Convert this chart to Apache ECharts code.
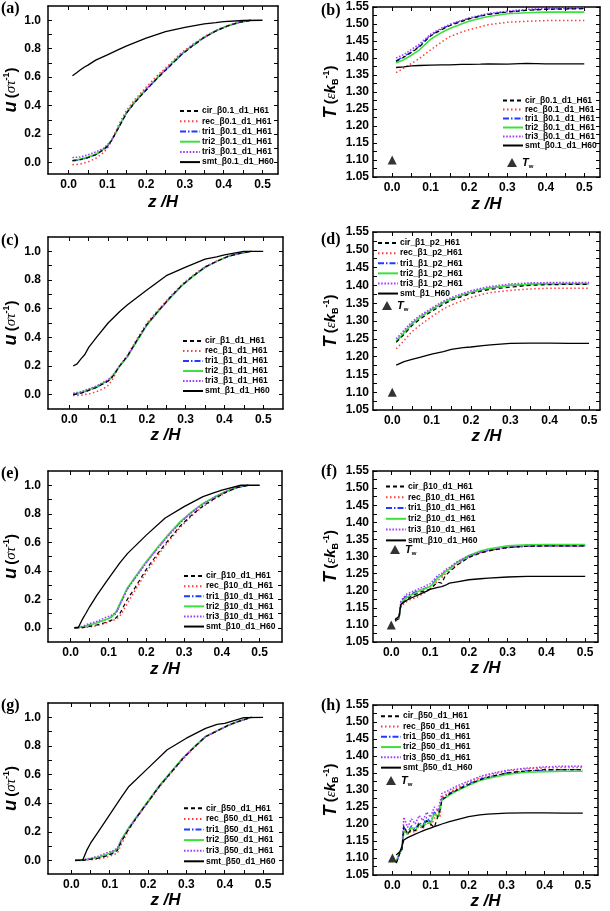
<!DOCTYPE html>
<html><head><meta charset="utf-8">
<script src="https://cdn.jsdelivr.net/npm/echarts@6/dist/echarts.min.js"></script>
<style>html,body{margin:0;padding:0;background:#fff}#c{width:610px;height:911px}</style>
</head><body><div id="c"></div>
<script>
// ---------- z grids ----------
const zS = [0.01,0.03,0.05,0.07,0.09,0.10,0.11,0.12,0.13,0.15,0.17,0.20,0.23,0.26,0.29,0.32,0.35,0.38,0.41,0.44,0.47];
const zM = [0.01,0.02,0.03,0.04,0.05,0.07,0.10,0.13,0.15,0.20,0.25,0.30,0.35,0.38,0.40,0.45,0.50];
const zT = [0.01,0.03,0.05,0.07,0.10,0.13,0.15,0.18,0.20,0.23,0.25,0.30,0.35,0.40,0.45,0.50];
const zF = [0.01,0.015,0.02,0.025,0.03,0.04,0.05,0.06,0.07,0.08,0.09,0.10,0.11,0.12,0.13,0.14,0.15,0.17,0.20,0.23,0.25,0.30,0.35,0.40,0.45,0.50];
const zH = [0.01,0.015,0.02,0.025,0.03,0.04,0.05,0.06,0.07,0.08,0.09,0.10,0.11,0.12,0.125,0.13,0.15,0.17,0.20,0.23,0.25,0.30,0.35,0.40,0.45,0.50];

// ---------- (a) u, beta 0.1 ----------
const a_cir  = [0.015,0.02,0.035,0.055,0.09,0.115,0.15,0.2,0.25,0.35,0.42,0.51,0.595,0.675,0.755,0.82,0.88,0.925,0.96,0.985,1.0];
const a_rec  = [-0.015,-0.01,0.005,0.03,0.07,0.1,0.15,0.21,0.27,0.37,0.44,0.53,0.615,0.69,0.77,0.83,0.885,0.93,0.962,0.986,1.0];
const a_tri1 = [0.01,0.02,0.035,0.055,0.09,0.11,0.15,0.2,0.25,0.35,0.42,0.51,0.595,0.675,0.755,0.82,0.878,0.924,0.96,0.985,1.0];
const a_tri2 = [0.015,0.025,0.04,0.06,0.095,0.12,0.155,0.2,0.255,0.355,0.425,0.515,0.6,0.68,0.76,0.825,0.88,0.926,0.96,0.985,1.0];
const a_tri3 = [0.035,0.04,0.055,0.075,0.1,0.125,0.155,0.205,0.255,0.35,0.425,0.515,0.6,0.68,0.76,0.825,0.88,0.926,0.96,0.986,1.0];
const a_smt  = [0.61,0.63,0.65,0.67,0.685,0.72,0.757,0.795,0.82,0.875,0.92,0.95,0.975,0.983,0.99,0.998,1.0];

// ---------- (b) T, beta 0.1 ----------
const b_cir  = [1.39,1.402,1.416,1.432,1.465,1.484,1.495,1.507,1.515,1.523,1.528,1.535,1.54,1.543,1.544,1.545];
const b_rec  = [1.357,1.37,1.384,1.398,1.424,1.448,1.463,1.476,1.483,1.492,1.498,1.505,1.508,1.51,1.51,1.51];
const b_tri1 = [1.392,1.404,1.418,1.434,1.467,1.486,1.497,1.509,1.516,1.524,1.529,1.536,1.541,1.544,1.545,1.546];
const b_tri2 = [1.385,1.395,1.408,1.423,1.455,1.476,1.487,1.5,1.508,1.517,1.522,1.53,1.533,1.535,1.535,1.535];
const b_tri3 = [1.40,1.41,1.425,1.44,1.47,1.489,1.499,1.51,1.518,1.526,1.531,1.538,1.543,1.546,1.547,1.547];
const b_smt  = [1.372,1.374,1.377,1.378,1.379,1.38,1.38,1.381,1.381,1.382,1.383,1.382,1.384,1.383,1.383,1.383];

// ---------- (c) u, beta 1 ----------
const c_cir  = [0.0,0.01,0.03,0.05,0.08,0.095,0.12,0.16,0.2,0.27,0.36,0.49,0.586,0.678,0.762,0.83,0.89,0.93,0.965,0.986,1.0];
const c_rec  = [-0.005,-0.005,0.005,0.02,0.045,0.065,0.1,0.15,0.2,0.275,0.37,0.5,0.595,0.685,0.768,0.835,0.893,0.933,0.967,0.987,1.0];
const c_tri1 = [0.0,0.01,0.03,0.05,0.08,0.095,0.12,0.16,0.2,0.265,0.355,0.485,0.583,0.675,0.76,0.828,0.888,0.93,0.965,0.986,1.0];
const c_tri2 = [0.005,0.015,0.035,0.055,0.085,0.1,0.125,0.16,0.2,0.265,0.355,0.485,0.583,0.675,0.76,0.828,0.888,0.93,0.965,0.986,1.0];
const c_tri3 = [0.01,0.02,0.04,0.06,0.09,0.105,0.13,0.165,0.205,0.27,0.36,0.49,0.586,0.678,0.762,0.83,0.89,0.93,0.965,0.986,1.0];
const c_smt  = [0.2,0.215,0.25,0.28,0.33,0.4,0.5,0.58,0.627,0.73,0.83,0.89,0.945,0.962,0.975,1.0,1.0];

// ---------- (d) T, beta 1, p2 ----------
const d_cir  = [1.24,1.262,1.287,1.305,1.327,1.347,1.358,1.37,1.377,1.385,1.389,1.395,1.40,1.402,1.403,1.403];
const d_rec  = [1.222,1.245,1.27,1.288,1.312,1.334,1.345,1.358,1.366,1.375,1.38,1.386,1.39,1.392,1.392,1.392];
const d_tri1 = [1.243,1.268,1.293,1.31,1.332,1.352,1.362,1.374,1.381,1.389,1.393,1.40,1.403,1.404,1.405,1.405];
const d_tri2 = [1.242,1.267,1.292,1.31,1.332,1.352,1.362,1.374,1.381,1.389,1.393,1.40,1.403,1.405,1.405,1.405];
const d_tri3 = [1.25,1.274,1.298,1.315,1.336,1.356,1.366,1.378,1.385,1.393,1.397,1.404,1.407,1.408,1.408,1.408];
const d_smt  = [1.176,1.186,1.192,1.198,1.207,1.214,1.22,1.225,1.227,1.231,1.233,1.237,1.238,1.238,1.237,1.237];

// ---------- (e) u, beta 10 ----------
const e_cir  = [0.0,0.0,0.01,0.02,0.035,0.045,0.055,0.07,0.1,0.2,0.28,0.41,0.52,0.62,0.715,0.79,0.855,0.905,0.95,0.983,1.0];
const e_rec  = [0.0,0.0,0.005,0.015,0.03,0.04,0.05,0.06,0.08,0.17,0.26,0.39,0.505,0.61,0.705,0.785,0.85,0.903,0.948,0.983,1.0];
const e_tri1 = [0.0,0.005,0.02,0.035,0.055,0.065,0.08,0.1,0.16,0.275,0.35,0.46,0.56,0.655,0.74,0.81,0.87,0.915,0.955,0.985,1.0];
const e_tri2 = [0.0,0.005,0.02,0.035,0.055,0.065,0.08,0.11,0.17,0.28,0.355,0.465,0.565,0.66,0.745,0.813,0.872,0.917,0.956,0.985,1.0];
const e_tri3 = [0.0,0.01,0.03,0.045,0.07,0.08,0.09,0.11,0.16,0.27,0.345,0.455,0.555,0.65,0.737,0.808,0.868,0.914,0.955,0.985,1.0];
const e_smt  = [0.0,0.0,0.055,0.1,0.147,0.23,0.345,0.455,0.52,0.65,0.77,0.85,0.92,0.948,0.965,1.0,1.0];

// ---------- (f) T, beta 10 ----------
const f_cir  = [1.112,1.115,1.118,1.16,1.165,1.175,1.182,1.188,1.193,1.198,1.2,1.205,1.215,1.225,1.222,1.245,1.255,1.275,1.297,1.31,1.316,1.326,1.33,1.331,1.331,1.331];
const f_rec  = [1.11,1.113,1.118,1.155,1.16,1.168,1.175,1.178,1.183,1.19,1.196,1.205,1.215,1.23,1.238,1.25,1.258,1.277,1.298,1.311,1.317,1.327,1.33,1.331,1.33,1.33];
const f_tri1 = [1.115,1.118,1.12,1.165,1.175,1.185,1.19,1.195,1.2,1.204,1.208,1.212,1.225,1.24,1.245,1.258,1.265,1.282,1.30,1.312,1.318,1.327,1.33,1.331,1.331,1.331];
const f_tri2 = [1.115,1.118,1.12,1.16,1.17,1.18,1.187,1.192,1.198,1.203,1.207,1.212,1.222,1.238,1.243,1.256,1.263,1.283,1.303,1.316,1.322,1.331,1.334,1.335,1.335,1.335];
const f_tri3 = [1.118,1.12,1.122,1.17,1.178,1.19,1.195,1.2,1.205,1.21,1.215,1.22,1.232,1.245,1.25,1.262,1.268,1.285,1.302,1.313,1.318,1.326,1.33,1.331,1.33,1.33];
const f_smt  = [1.115,1.12,1.125,1.16,1.165,1.172,1.178,1.183,1.188,1.193,1.198,1.204,1.207,1.21,1.212,1.216,1.222,1.226,1.232,1.235,1.237,1.24,1.242,1.242,1.242,1.242];

// ---------- (g) u, beta 50 ----------
const g_cir  = [0.0,0.0,0.008,0.015,0.03,0.04,0.05,0.07,0.13,0.22,0.3,0.41,0.52,0.615,0.71,0.79,0.865,0.905,0.945,0.975,1.0];
const g_rec  = [0.0,0.0,0.005,0.01,0.02,0.03,0.04,0.05,0.11,0.215,0.295,0.405,0.515,0.61,0.705,0.787,0.862,0.903,0.944,0.975,1.0];
const g_tri1 = [0.0,0.0,0.01,0.02,0.035,0.045,0.06,0.075,0.14,0.225,0.3,0.41,0.52,0.615,0.71,0.79,0.865,0.905,0.945,0.975,1.0];
const g_tri2 = [0.0,0.003,0.012,0.022,0.04,0.05,0.065,0.08,0.145,0.23,0.305,0.415,0.525,0.62,0.714,0.793,0.867,0.907,0.946,0.976,1.0];
const g_tri3 = [0.0,0.005,0.015,0.03,0.05,0.06,0.07,0.085,0.14,0.225,0.3,0.41,0.52,0.615,0.71,0.79,0.865,0.905,0.945,0.975,1.0];
const g_smt  = [0.0,0.0,0.005,0.07,0.12,0.2,0.32,0.44,0.517,0.645,0.773,0.854,0.923,0.95,0.958,0.998,1.0];

// ---------- (h) T, beta 50 ----------
const h_cir  = [1.085,1.10,1.115,1.125,1.195,1.17,1.185,1.18,1.2,1.19,1.21,1.2,1.19,1.225,1.24,1.27,1.288,1.3,1.316,1.33,1.337,1.35,1.356,1.36,1.36,1.36];
const h_rec  = [1.09,1.105,1.118,1.128,1.18,1.17,1.18,1.175,1.195,1.185,1.205,1.195,1.215,1.245,1.22,1.28,1.294,1.306,1.322,1.336,1.343,1.356,1.362,1.365,1.366,1.366];
const h_tri1 = [1.085,1.10,1.115,1.125,1.19,1.175,1.195,1.185,1.205,1.195,1.22,1.205,1.235,1.225,1.25,1.275,1.29,1.302,1.318,1.332,1.338,1.35,1.356,1.358,1.36,1.36];
const h_tri2 = [1.09,1.105,1.118,1.125,1.18,1.17,1.19,1.18,1.2,1.19,1.21,1.2,1.23,1.22,1.245,1.27,1.285,1.298,1.314,1.328,1.334,1.346,1.352,1.354,1.355,1.355];
const h_tri3 = [1.085,1.10,1.12,1.13,1.22,1.19,1.215,1.2,1.225,1.21,1.235,1.22,1.25,1.24,1.265,1.29,1.30,1.312,1.326,1.34,1.346,1.358,1.364,1.368,1.37,1.37];
const h_smt  = [1.109,1.113,1.119,1.135,1.153,1.16,1.165,1.17,1.175,1.18,1.184,1.188,1.192,1.196,1.198,1.2,1.207,1.213,1.222,1.227,1.229,1.232,1.233,1.233,1.232,1.232];

// wall temperature marker
const Tw_point = [0.0, 1.10];

// tick labels
const xLabels = [0,0.1,0.2,0.3,0.4,0.5];
const uLabels = [0,0.2,0.4,0.6,0.8,1.0];
const TLabels = [1.05,1.10,1.15,1.20,1.25,1.30,1.35,1.40,1.45,1.50,1.55];

// legend names
const names = {
  a: ['cir_β0.1_d1_H61','rec_β0.1_d1_H61','tri1_β0.1_d1_H61','tri2_β0.1_d1_H61','tri3_β0.1_d1_H61','smt_β0.1_d1_H60'],
  b: ['cir_β0.1_d1_H61','rec_β0.1_d1_H61','tri1_β0.1_d1_H61','tri2_β0.1_d1_H61','tri3_β0.1_d1_H61','smt_β0.1_d1_H60'],
  c: ['cir_β1_d1_H61','rec_β1_d1_H61','tri1_β1_d1_H61','tri2_β1_d1_H61','tri3_β1_d1_H61','smt_β1_d1_H60'],
  d: ['cir_β1_p2_H61','rec_β1_p2_H61','tri1_β1_p2_H61','tri2_β1_p2_H61','tri3_β1_p2_H61','smt_β1_H60'],
  e: ['cir_β10_d1_H61','rec_β10_d1_H61','tri1_β10_d1_H61','tri2_β10_d1_H61','tri3_β10_d1_H61','smt_β10_d1_H60'],
  f: ['cir_β10_d1_H61','rec_β10_d1_H61','tri1_β10_d1_H61','tri2_β10_d1_H61','tri3_β10_d1_H61','smt_β10_d1_H60'],
  g: ['cir_β50_d1_H61','rec_β50_d1_H61','tri1_β50_d1_H61','tri2_β50_d1_H61','tri3_β50_d1_H61','smt_β50_d1_H60'],
  h: ['cir_β50_d1_H61','rec_β50_d1_H61','tri1_β50_d1_H61','tri2_β50_d1_H61','tri3_β50_d1_H61','smt_β50_d1_H60']
};

const panelData = {
  a: {zs: zS, zm: zM, s: [a_cir,a_rec,a_tri1,a_tri2,a_tri3], m: a_smt},
  b: {zs: zT, zm: zT, s: [b_cir,b_rec,b_tri1,b_tri2,b_tri3], m: b_smt},
  c: {zs: zS, zm: zM, s: [c_cir,c_rec,c_tri1,c_tri2,c_tri3], m: c_smt},
  d: {zs: zT, zm: zT, s: [d_cir,d_rec,d_tri1,d_tri2,d_tri3], m: d_smt},
  e: {zs: zS, zm: zM, s: [e_cir,e_rec,e_tri1,e_tri2,e_tri3], m: e_smt},
  f: {zs: zF, zm: zF, s: [f_cir,f_rec,f_tri1,f_tri2,f_tri3], m: f_smt},
  g: {zs: zS, zm: zM, s: [g_cir,g_rec,g_tri1,g_tri2,g_tri3], m: g_smt},
  h: {zs: zH, zm: zH, s: [h_cir,h_rec,h_tri1,h_tri2,h_tri3], m: h_smt}
};

// ---------- layout / styles ----------
const STY = [
  {color:'#000000', type:[4,3], width:1.2},
  {color:'#ff3b3b', type:[1.5,2.5], width:1.5},
  {color:'#1e3cff', type:[6,2,1.5,2], width:1.3},
  {color:'#3ee03e', type:'solid', width:1.6},
  {color:'#a43cff', type:[1.6,1.6], width:1.5},
  {color:'#000000', type:'solid', width:1.3}
];

const P = [
  {id:'a', kind:'u', g:{left:48,top:6,width:230,height:168}, x:[-0.053,0.54], y:[-0.08,1.1], xg:20, leg:[179,106,10.2], lab:[1,1]},
  {id:'b', kind:'T', g:{left:373,top:7,width:227,height:170}, x:[-0.05,0.541], y:[1.05,1.55], xg:19, leg:[502,96,9], tw:[507,157], lab:[321,3]},
  {id:'c', kind:'u', g:{left:48,top:237,width:235,height:172}, x:[-0.055,0.551], y:[-0.1,1.1], xg:15, leg:[182,336,10], lab:[1,233]},
  {id:'d', kind:'T', g:{left:373,top:232,width:227,height:178}, x:[-0.049,0.528], y:[1.05,1.55], xg:15, leg:[377,238,10.1], tw:[382,300], lab:[321,232]},
  {id:'e', kind:'u', g:{left:48,top:471,width:234,height:171}, x:[-0.06,0.559], y:[-0.1,1.1], xg:19, leg:[183,571,10.1], lab:[1,466]},
  {id:'f', kind:'T', g:{left:373,top:471,width:225,height:171}, x:[-0.047,0.533], y:[1.05,1.55], xg:17, leg:[385,481,10.8], tw:[390,544], lab:[321,464]},
  {id:'g', kind:'u', g:{left:48,top:703,width:235,height:171}, x:[-0.061,0.552], y:[-0.095,1.1], xg:17, leg:[183,803,10.6], lab:[1,698]},
  {id:'h', kind:'T', g:{left:373,top:705,width:225,height:170}, x:[-0.051,0.54], y:[1.05,1.55], xg:18, leg:[380,711,10.3], tw:[386,775], lab:[321,698]}
];

function rng(a, b, step) { const out = []; for (let k = Math.round(a/step); k*step <= b + 1e-9; k++) out.push(Math.round(k*step*1000)/1000); return out; }
const xTicks = rng(0, 0.5, 0.05);
const uTicks = rng(0, 1.0, 0.1);
const TTicks = rng(1.05, 1.55, 0.025);

const LBL = {fontFamily:'"Liberation Sans", Arial, sans-serif', fontWeight:'bold', fontSize:12, color:'#000'};
const lineCol = {show:true, onZero:false, lineStyle:{color:'#000', width:1.5}};

const grids = [], xAxes = [], yAxes = [], series = [], legends = [], graphics = [];

P.forEach((p, i) => {
  grids.push(Object.assign({containLabel:false}, p.g));
  const isU = p.kind === 'u';
  xAxes.push({type:'value', gridIndex:i, position:'bottom', min:p.x[0], max:p.x[1],
    axisLine:lineCol, splitLine:{show:false},
    axisTick:{show:true, inside:true, length:4, customValues:xTicks, lineStyle:{color:'#000', width:1}},
    axisLabel:Object.assign({customValues:xLabels, margin:5, formatter:v => v.toFixed(1)}, LBL),
    name:'z /H', nameLocation:'middle', nameGap:p.xg,
    nameTextStyle:{fontFamily:'"Liberation Sans", Arial, sans-serif', fontWeight:'bold', fontStyle:'italic', fontSize:17, color:'#000'}
  });
  xAxes.push({type:'value', gridIndex:i, position:'top', min:p.x[0], max:p.x[1],
    axisLine:lineCol, splitLine:{show:false},
    axisTick:{show:true, inside:true, length:4, customValues:xTicks, lineStyle:{color:'#000', width:1}},
    axisLabel:{show:false}
  });
  const yT = isU ? uTicks : TTicks;
  const yL = isU ? uLabels : TLabels;
  const yName = isU ? '{u|u} {p|(}{g|στ}{s|-1}{p|)}' : '{u|T} {p|(}{g|ε}{k|k}{b|B}{s|-1}{p|)}';
  yAxes.push({type:'value', gridIndex:i, position:'left', min:p.y[0], max:p.y[1],
    axisLine:lineCol, splitLine:{show:false},
    axisTick:{show:true, inside:true, length:4, customValues:yT, lineStyle:{color:'#000', width:1}},
    axisLabel:Object.assign({customValues:yL, margin:isU ? 7 : 4, formatter:v => v.toFixed(isU ? 1 : 2)}, LBL),
    name:yName, nameLocation:'middle', nameGap:isU ? 27 : 33, nameRotate:90,
    nameTextStyle:{color:'#000', rich:{
      u:{fontFamily:'"Liberation Sans", Arial, sans-serif', fontWeight:'bold', fontStyle:'italic', fontSize:18, color:'#000'},
      p:{fontFamily:'"Liberation Sans", Arial, sans-serif', fontWeight:'bold', fontSize:15, color:'#000'},
      g:{fontFamily:'"Liberation Serif", serif', fontStyle:'italic', fontSize:15, color:'#000'},
      k:{fontFamily:'"Liberation Sans", Arial, sans-serif', fontWeight:'bold', fontStyle:'italic', fontSize:15, color:'#000'},
      b:{fontFamily:'"Liberation Sans", Arial, sans-serif', fontWeight:'bold', fontSize:9, color:'#000', verticalAlign:'bottom', padding:[8,0,0,0]},
      s:{fontFamily:'"Liberation Sans", Arial, sans-serif', fontWeight:'bold', fontSize:9, color:'#000', verticalAlign:'top', padding:[0,0,8,0]}
    }}
  });
  yAxes.push({type:'value', gridIndex:i, position:'right', min:p.y[0], max:p.y[1],
    axisLine:lineCol, splitLine:{show:false},
    axisTick:{show:true, inside:true, length:4, customValues:yT, lineStyle:{color:'#000', width:1}},
    axisLabel:{show:false}
  });

  const pd = panelData[p.id];
  const nm = names[p.id];
  pd.s.forEach((arr, k) => {
    series.push({type:'line', name:nm[k], xAxisIndex:2*i, yAxisIndex:2*i,
      data: pd.zs.map((zv, j) => [zv, arr[j]]), symbol:'none', showSymbol:false, smooth:false,
      lineStyle:{color:STY[k].color, type:STY[k].type, width:STY[k].width}, itemStyle:{color:STY[k].color},
      silent:true, animation:false, z:3 + (k === 0 ? 2 : 0)});
  });
  series.push({type:'line', name:nm[5], xAxisIndex:2*i, yAxisIndex:2*i,
    data: pd.zm.map((zv, j) => [zv, pd.m[j]]), symbol:'none', showSymbol:false,
    lineStyle:{color:STY[5].color, type:STY[5].type, width:STY[5].width}, itemStyle:{color:STY[5].color},
    silent:true, animation:false, z:4});

  legends.push({show:true, orient:'vertical', left:p.leg[0], top:p.leg[1], itemWidth:20, itemHeight:p.leg[2], itemGap:0,
    padding:0, selectedMode:false, data:nm,
    itemStyle:{opacity:0, borderWidth:0},
    textStyle:{fontFamily:'"Liberation Sans", Arial, sans-serif', fontWeight:'bold', fontSize:8.5, color:'#000', lineHeight:p.leg[2], padding:[0,0,0,-3]}});

  if (!isU) {
    series.push({type:'scatter', name:'Tw', xAxisIndex:2*i, yAxisIndex:2*i, data:[Tw_point],
      symbol:'triangle', symbolSize:9, itemStyle:{color:'#000'}, silent:true, animation:false, z:6});
    legends.push({show:true, orient:'vertical', left:p.tw[0], top:p.tw[1], itemWidth:10, itemHeight:9, itemGap:0,
      padding:0, selectedMode:false, data:[{name:'Tw', icon:'triangle'}],
      formatter:() => '{t|T}{w|w}',
      textStyle:{color:'#000', rich:{
        t:{fontFamily:'"Liberation Sans", Arial, sans-serif', fontWeight:'bold', fontStyle:'italic', fontSize:11, color:'#000'},
        w:{fontFamily:'"Liberation Sans", Arial, sans-serif', fontWeight:'bold', fontSize:6, color:'#000', verticalAlign:'bottom', padding:[7,0,0,0]}
      }}});
  }

  graphics.push({type:'text', left:p.lab[0], top:p.lab[1], silent:true,
    style:{text:'(' + p.id + ')', font:'bold 16px "Liberation Serif", "Times New Roman", serif', fill:'#000'}});
});

const chart = echarts.init(document.getElementById('c'), null, {renderer:'canvas'});
chart.setOption({
  backgroundColor:'#fff',
  animation:false,
  grid:grids, xAxis:xAxes, yAxis:yAxes, series:series, legend:legends, graphic:graphics,
  tooltip:{show:false}
});
</script></body></html>
